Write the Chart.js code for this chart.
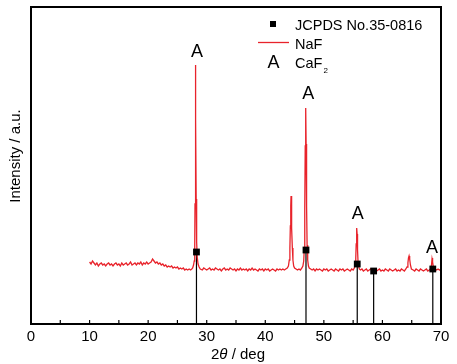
<!DOCTYPE html>
<html><head><meta charset="utf-8">
<script src="https://cdn.jsdelivr.net/npm/chart.js@4.4.1/dist/chart.umd.min.js"></script>
<style>html,body{margin:0;padding:0;background:#fff}#wrap{width:457px;height:364px}</style>
</head><body><div id="wrap"><canvas id="c" width="457" height="364"></canvas></div>
<script>
// 2θ (deg) and measured intensity (a.u.) of the NaF sample
const twoTheta = [
  10,10.25,10.5,10.75,11,11.25,11.5,11.75,12,12.25,12.5,12.75,
  13,13.25,13.5,13.75,14,14.25,14.5,14.75,15,15.25,15.5,15.75,
  16,16.25,16.5,16.75,17,17.25,17.5,17.75,18,18.25,18.5,18.75,
  19,19.25,19.5,19.75,20,20.25,20.5,20.75,21,21.25,21.5,21.75,
  22,22.25,22.5,22.75,23,23.25,23.5,23.75,24,24.25,24.5,24.75,
  25,25.25,25.5,25.75,26,26.25,26.5,26.75,27,27.25,27.45,
  27.6,27.75,27.87,27.95,28.0,28.05,28.1,28.15,28.2,28.28,28.38,28.52,28.7,28.9,
  29.25,29.5,29.75,30,30.25,30.5,30.75,31,31.25,31.5,31.75,32,
  32.25,32.5,32.75,33,33.25,33.5,33.75,34,34.25,34.5,34.75,35,
  35.25,35.5,35.75,36,36.25,36.5,36.75,37,37.25,37.5,37.75,38,
  38.25,38.5,38.75,39,39.25,39.5,39.75,40,40.25,40.5,40.75,41,
  41.25,41.5,41.75,42,42.25,42.5,42.75,43,43.25,43.5,43.75,
  43.95,44.1,44.2,44.28,44.35,44.4,44.46,44.53,44.62,44.72,44.85,45,
  45.25,45.5,45.75,46,46.25,
  46.42,46.56,46.66,46.74,46.82,46.9,46.97,47.05,47.14,47.24,47.37,47.5,
  47.75,48,48.25,48.5,48.75,49,49.25,49.5,49.75,50,50.25,50.5,
  50.75,51,51.25,51.5,51.75,52,52.25,52.5,52.75,53,53.25,53.5,
  53.75,54,54.25,54.5,54.75,55,55.2,
  55.35,55.45,55.52,55.58,55.63,55.68,55.75,55.83,55.93,56.05,
  56.25,56.5,56.75,57,57.25,57.5,57.75,58,58.25,58.5,58.75,59,
  59.25,59.5,59.75,60,60.25,60.5,60.75,61,61.25,61.5,61.75,62,
  62.25,62.5,62.75,63,63.25,63.5,63.75,64,64.2,
  64.35,64.45,64.55,64.65,64.78,64.95,
  65.25,65.5,65.75,66,66.25,66.5,66.75,67,67.25,67.5,67.75,68,68.25,
  68.38,68.47,68.53,68.6,68.7,68.85,
  69,69.25,69.5,69.75,70
];
const intensity = [
  62,60,63,61,59,61,58,60,61,59,60,58,
  60,61,59,60,58,60,61,59,60,58,61,59,
  60,61,59,60,62,59,60,61,59,61,60,62,
  59,61,60,62,60,61,62,65,63,61,62,60,
  61,59,60,58,59,57,58,57,58,56,57,56,
  57,55,56,55,56,54,55,54,55,54,55,
  56,59,63,74,120,200,259,205,125,82,67,60,57,55,
  54,56,55,54,55,56,54,55,54,56,55,54,
  55,53,55,56,54,55,54,56,55,54,55,53,
  55,54,56,54,55,54,55,53,55,54,56,54,
  55,54,53,55,54,55,53,55,54,55,53,54,
  55,54,53,55,54,55,54,55,54,55,56,
  58,64,76,98,118,128,118,96,76,64,58,56,
  55,54,55,54,56,
  58,63,75,115,178,216,180,118,79,64,58,56,
  55,54,55,53,55,54,55,54,53,55,54,55,
  53,54,55,54,53,55,54,53,55,54,55,53,
  54,55,54,53,55,54,56,
  59,66,80,94,96,90,74,63,58,55,
  54,55,53,54,55,53,54,55,53,54,55,53,
  54,55,53,54,53,55,54,53,55,54,53,54,
  55,53,54,53,55,54,53,55,57,
  61,66,68,65,59,55,
  54,53,55,54,53,55,54,53,54,55,53,54,55,
  59,65,66,62,57,54,
  55,54,55,54,54
];
// JCPDS No.35-0816 (CaF2) reference lines
const jcpdsPos = [28.25, 46.95, 55.7, 58.5, 68.6];
const jcpdsInt = [72, 74, 60, 53, 55];
// "A" (CaF2) peak markers
const caf2LabelPos = [28.35, 47.35, 55.8, 68.45];
const caf2LabelInt = [274, 232, 111.5, 77.5];
const xMin = 0, xMax = 70, xStep = 5, xLabelStep = 10;
const yMin = 0, yMax = 317;

const FONT = '"Liberation Sans", Arial, Helvetica, sans-serif';
const RED = '#e8232b';

const overlay = {
  id: 'overlay',
  beforeDatasetsDraw(chart) {
    const {ctx, chartArea: a, scales: {x, y}} = chart;
    ctx.save();
    ctx.strokeStyle = '#000'; ctx.lineWidth = 1.2;
    jcpdsPos.forEach((p, i) => {
      const px = x.getPixelForValue(p);
      ctx.beginPath();
      ctx.moveTo(px, a.bottom);
      ctx.lineTo(px, y.getPixelForValue(jcpdsInt[i]));
      ctx.stroke();
    });
    ctx.restore();
  },
  afterDraw(chart) {
    const {ctx, chartArea: a, scales: {x, y}} = chart;
    ctx.save();
    // frame
    ctx.strokeStyle = '#000'; ctx.lineWidth = 2;
    ctx.strokeRect(a.left, a.top, a.right - a.left, a.bottom - a.top);
    // inward ticks
    ctx.lineWidth = 1.2;
    for (let v = xMin + xStep; v < xMax; v += xStep) {
      const px = x.getPixelForValue(v);
      ctx.beginPath(); ctx.moveTo(px, a.bottom); ctx.lineTo(px, a.bottom - 4); ctx.stroke();
    }
    // CaF2 "A" labels
    ctx.fillStyle = '#000';
    ctx.font = '18px ' + FONT;
    ctx.textAlign = 'center'; ctx.textBaseline = 'alphabetic';
    caf2LabelPos.forEach((p, i) => {
      ctx.fillText('A', x.getPixelForValue(p), y.getPixelForValue(caf2LabelInt[i]) + 6.5);
    });
    // legend
    ctx.fillRect(270, 21, 6, 6);
    ctx.strokeStyle = RED; ctx.lineWidth = 1.3;
    ctx.beginPath(); ctx.moveTo(258, 42.5); ctx.lineTo(289, 42.5); ctx.stroke();
    ctx.textAlign = 'center';
    ctx.font = '18px ' + FONT;
    ctx.fillText('A', 273.5, 67.5);
    ctx.textAlign = 'left';
    ctx.font = '14.5px ' + FONT;
    ctx.fillText('JCPDS No.35-0816', 295, 29.5);
    ctx.fillText('NaF', 295, 49);
    ctx.fillText('CaF', 295, 67.5);
    const w = ctx.measureText('CaF').width;
    ctx.font = '8px ' + FONT;
    ctx.fillText('2', 295 + w + 1, 73);
    // x title with italic theta
    ctx.font = 'italic 15px ' + FONT;
    const wt = ctx.measureText('\u03b8').width;
    ctx.font = '15px ' + FONT;
    const t1 = '2', t3 = ' / deg';
    const w1 = ctx.measureText(t1).width, w3 = ctx.measureText(t3).width;
    let sx = (a.left + a.right) / 2 - (w1 + wt + w3) / 2 + 2;
    const by = 359;
    ctx.fillText(t1, sx, by); sx += w1;
    ctx.font = 'italic 15px ' + FONT;
    ctx.fillText('\u03b8', sx, by); sx += wt;
    ctx.font = '15px ' + FONT;
    ctx.fillText(t3, sx, by);
    // y title
    ctx.translate(19.5, 156);
    ctx.rotate(-Math.PI / 2);
    ctx.textAlign = 'center';
    ctx.font = '15px ' + FONT;
    ctx.fillText('Intensity / a.u.', 0, 0);
    ctx.restore();
  }
};

new Chart(document.getElementById('c'), {
  type: 'scatter',
  data: {
    datasets: [
      {
        label: 'NaF',
        data: twoTheta.map((t, i) => ({x: t, y: intensity[i]})),
        showLine: true, borderColor: RED, borderWidth: 1.3,
        pointRadius: 0, tension: 0, order: 2
      },
      {
        label: 'JCPDS No.35-0816',
        data: jcpdsPos.map((p, i) => ({x: p, y: jcpdsInt[i]})),
        showLine: false, pointStyle: 'rect', pointRadius: 4.8,
        backgroundColor: '#000', borderColor: '#000', borderWidth: 0, order: 1
      }
    ]
  },
  options: {
    responsive: false, animation: false, devicePixelRatio: 1,
    layout: {padding: {left: 31, right: 16, top: 7, bottom: 0}},
    plugins: {legend: {display: false}, tooltip: {enabled: false}},
    scales: {
      x: {
        type: 'linear', min: xMin, max: xMax,
        afterFit: s => { s.height = 40; },
        ticks: {
          stepSize: xStep, autoSkip: false, maxRotation: 0, padding: 4,
          color: '#000', font: {family: FONT, size: 15},
          callback: v => (v % xLabelStep === 0 ? String(v) : '')
        },
        grid: {drawOnChartArea: false, drawTicks: false},
        border: {display: false}
      },
      y: {display: false, min: yMin, max: yMax}
    }
  },
  plugins: [overlay]
});
</script>
</body></html>
